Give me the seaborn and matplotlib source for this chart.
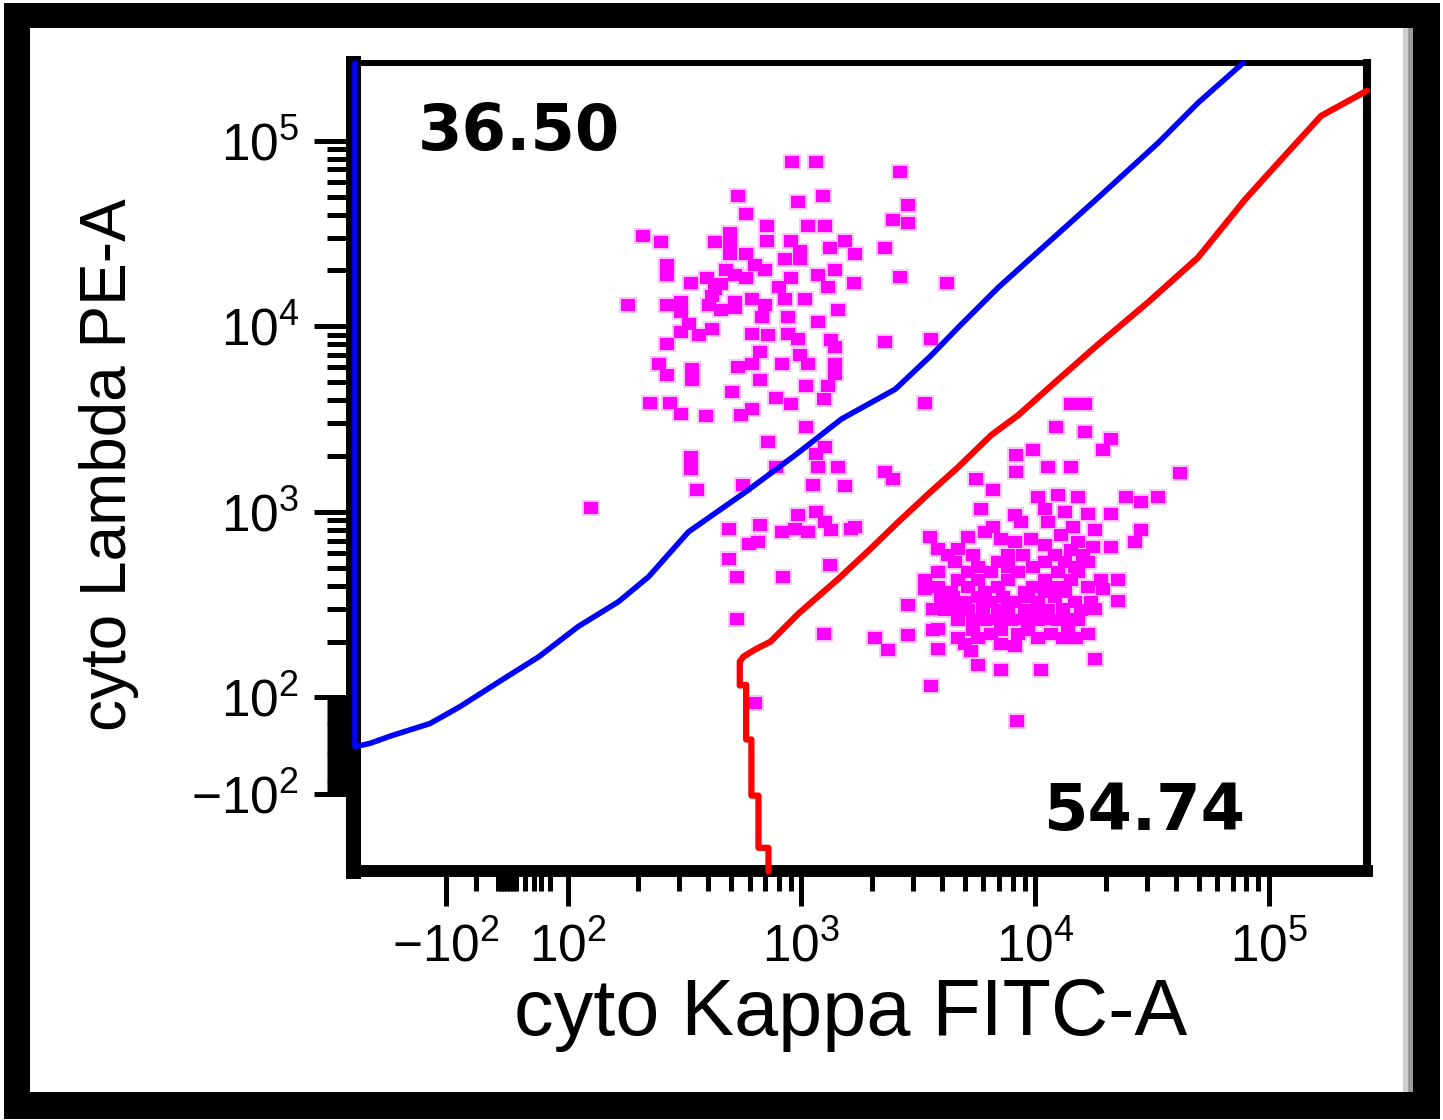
import numpy as np
import pandas as pd
import matplotlib
matplotlib.use("Agg")
import matplotlib.pyplot as plt
import seaborn as sns
from matplotlib.patches import Rectangle
from matplotlib.path import Path
from matplotlib.markers import MarkerStyle
from matplotlib.ticker import FixedLocator, FixedFormatter, NullFormatter

# ---------------- data ----------------
# Lambda+ population (upper-left cluster): x = cyto Kappa FITC-A, y = cyto Lambda PE-A
upper_kappa = [910, 1150, 2650, 533, 970, 1240, 2870, 2870, 2470, 577, 716, 1072, 1265,
               211, 250, 493, 429, 493, 716, 906, 990, 854, 990, 1330, 1541, 1701, 2285,
               265, 265, 493, 577, 474, 522, 636, 702, 336, 393, 429, 906, 798, 1183, 1396,
               1304, 1684, 2650, 4210, 182, 265, 307, 307, 401, 455, 522, 612, 413, 854,
               1040, 1440, 675, 880, 1183, 329, 307, 413, 363, 612, 723, 880, 971, 1343,
               2285, 3596, 265, 1396, 668, 612, 538, 822, 990, 1072, 245, 265, 339, 339,
               1396, 1396, 668, 1051, 1304, 1243, 503, 782, 906, 226, 275, 307, 390, 554,
               612, 3390, 1051, 723, 1265, 1160, 336, 336, 1183, 1440, 775, 2285, 2474,
               356, 565, 1126, 1541, 126, 488, 668, 1701, 3560, 971, 1150, 1265, 942, 1072,
               1343, 822, 655, 594, 1636, 488, 528, 838, 1330, 528, 1243, 636,
               577, 520, 455, 700]
upper_lambda = [77000, 77000, 68000, 50600, 47000, 50600, 45300, 36200, 37600, 40500, 34900,
                34900, 34900, 30500, 28300, 32000, 28300, 28300, 28700, 28700, 25600, 22900,
                22900, 26300, 28700, 24400, 26300, 21300, 18800, 24400, 24400, 20200, 18800,
                21300, 20200, 17200, 18300, 15800, 18300, 16200, 18800, 20000, 16200, 17200,
                18500, 17200, 13000, 13000, 13500, 11900, 13000, 12300, 13500, 14000, 14600,
                14000, 14000, 12300, 11200, 11200, 10500, 10250, 9290, 9640, 8950, 9060, 8950,
                9060, 8500, 8400, 8200, 8500, 8000, 7700, 7250, 6240, 6010, 6240, 7000, 6240,
                6240, 5450, 5880, 5130, 6240, 5520, 5130, 4760, 4760, 4050, 4420, 4100, 3800,
                3850, 3850, 3370, 3290, 3330, 3580, 3850, 2870, 2380, 2240, 2050, 1970, 1700,
                1750, 1750, 1750, 1640, 1500, 1310, 1400, 1400, 1370, 1050, 810, 850, 830,
                735, 960, 1000, 884, 810, 781, 800, 781, 690, 673, 810, 558, 448, 448, 518,
                266, 220, 88,
                18300, 12600, 17000, 13000]

# Kappa+ population (lower-right cluster)
lower_kappa = [2071, 2355, 2867, 3852, 3852, 3390, 3967, 2867, 3852, 3852, 14260, 16360,
               12300, 16360, 21140, 19550, 8300, 9810, 11373, 14260, 8300, 41700, 5600, 6620,
               10300, 12550, 15280, 11040, 13440, 16860, 24500, 28400, 33570, 21140, 5880,
               8220, 8720, 18050, 28400, 26760, 5175, 6115, 7160, 8220, 9620, 11040, 12920,
               15280, 21140, 4690, 14260, 4550, 6953, 11040, 13440, 16860, 5175, 6490, 8465,
               12550, 15280, 3390, 4690, 5711, 7672, 11040, 14260, 19170, 22650, 4380, 6115,
               9060, 11040, 13440, 19550, 5020, 6490, 8220, 10300, 14830, 17370, 22650, 4125,
               5175, 6953, 9060, 11370, 15740, 4690, 6115, 7900, 10300, 12550, 15280, 6490,
               8465, 11720, 16860, 5020, 7160, 8220, 5330, 5711, 7160, 10620, 18050, 3596,
               8380,
               4250, 5440, 7672, 8900, 12180, 16060, 5711, 7672, 9810, 14830,
               3852, 5175, 6953, 9810, 12550, 16860, 4470, 5711, 7310, 9341, 12180,
               3670, 4550, 6000, 7672, 10300, 13190, 18050, 5440, 6953, 9060, 11373, 13847,
               3670, 5440, 7160, 9341, 13847, 4690, 5711, 10300, 13190, 14980,
               6620, 11373, 14550, 17720]
lower_lambda = [208, 181, 218, 633, 476, 385, 341, 316, 234, 183, 3800, 3800, 2870, 2690,
                2470, 2150, 2020, 2150, 1750, 1750, 1640, 1620, 1500, 1310, 1200, 1230, 1200,
                1040, 1000, 970, 1200, 1130, 1200, 970, 1030, 960, 884, 800, 800, 690, 735,
                781, 716, 690, 716, 665, 753, 690, 650, 633, 625, 538, 538, 538, 538, 538, 476,
                476, 476, 476, 476, 431, 431, 431, 431, 431, 431, 431, 431, 371, 371, 371, 371,
                371, 385, 328, 328, 328, 328, 328, 328, 332, 297, 297, 297, 297, 297, 297, 262,
                262, 262, 262, 262, 262, 220, 220, 220, 220, 195, 195, 189, 177, 150, 141, 141,
                162, 115, 51,
                588, 588, 588, 588, 588, 588, 506, 506, 506, 506,
                395, 395, 395, 395, 395, 395, 349, 349, 349, 349, 349,
                301, 301, 301, 301, 301, 301, 301, 266, 266, 266, 266, 266,
                231, 231, 231, 231, 231, 208, 208, 208, 208, 208,
                830, 884, 830, 650]

# gate polygons (drawn as outlines)
blue_gate_kappa = [-245, -245, -211, -173, -117, -77, -12, 53, 111, 165, 222, 329, 577, 942,
                   1482, 2522, 3594, 4690, 6953, 11373, 18600, 33574, 49700, 77400]
blue_gate_lambda = [262144, -2, 5, 20, 46, 81, 122, 166, 241, 328, 447, 781, 1280, 2025,
                    3162, 4585, 6984, 9880, 16200, 28300, 49400, 97500, 160000, 262144]
red_gate_kappa = [723, 723, 655, 655, 611, 611, 580, 580, 545, 545, 565, 642, 738, 813, 971,
                  1439, 1934, 2599, 3491, 4690, 6486, 8465, 12170, 18602, 30428, 49700,
                  78900, 112500, 166700, 262144]
red_gate_lambda = [-262, -195, -195, -102, -102, 13, 13, 117, 116, 156, 166, 183, 200, 226,
                   283, 436, 617, 884, 1250, 1746, 2594, 3324, 5000, 8000, 13500, 23500,
                   48200, 79000, 136000, 186000]

gate_labels = ["36.50", "54.74"]
x_ticks = [-100, 100, 1000, 10000, 100000]
x_ticklabels = [r"$-10^{2}$", r"$10^{2}$", r"$10^{3}$", r"$10^{4}$", r"$10^{5}$"]
y_ticks = [-100, 100, 1000, 10000, 100000]
y_ticklabels = [r"$-10^{2}$", r"$10^{2}$", r"$10^{3}$", r"$10^{4}$", r"$10^{5}$"]
x_title = "cyto Kappa FITC-A"
y_title = "cyto Lambda PE-A"

# ---------------- style ----------------
sns.set_theme(style="ticks")
plt.rcParams["font.family"] = ["Liberation Sans", "DejaVu Sans"]
plt.rcParams["mathtext.fontset"] = "custom"
plt.rcParams["mathtext.rm"] = "Liberation Sans"
plt.rcParams["mathtext.it"] = "Liberation Sans:italic"
plt.rcParams["mathtext.bf"] = "Liberation Sans:bold"

W, H = 1443, 1120
fig = plt.figure(figsize=(W / 100, H / 100), dpi=100)
fig.patch.set_facecolor("white")


def frame_rect(x0, y0, x1, y1, color, z):
    fig.add_artist(Rectangle((x0 / W, 1 - y1 / H), (x1 - x0) / W, (y1 - y0) / H,
                             transform=fig.transFigure, facecolor=color,
                             edgecolor="none", zorder=z))


frame_rect(4, 3, 1440, 1119, "black", -10)
frame_rect(30, 28, 1413, 1092, "white", -9)
frame_rect(1403, 28, 1408, 1092, "#cfcfcf", -8)
frame_rect(1408, 28, 1413, 1092, "#9a9a9a", -8)

ax = fig.add_axes([352.5 / W, 1 - 871 / H, (1367 - 352.5) / W, (871 - 63) / H])
ax.set_facecolor("white")
ax.set_xscale("symlog", linthresh=100, linscale=0.234)
ax.set_yscale("symlog", linthresh=100, linscale=0.234)

# slightly wide square event marker, with a soft pink fringe like the reference
event_marker = MarkerStyle(Path([(-1.15, -1), (1.15, -1), (1.15, 1), (-1.15, 1), (-1.15, -1)],
                                closed=True))
df = pd.DataFrame({"kappa": upper_kappa + lower_kappa,
                   "lambda": upper_lambda + lower_lambda})
sns.scatterplot(data=df, x="kappa", y="lambda", ax=ax, marker=event_marker, s=165,
                color="#ffc4ff", linewidth=0, zorder=1.9, legend=False)
sns.scatterplot(data=df, x="kappa", y="lambda", ax=ax, marker=event_marker, s=105,
                color="#ff00ff", linewidth=0, zorder=2, legend=False)

ax.plot(blue_gate_kappa, blue_gate_lambda, color="#0000ff", lw=4, zorder=4, clip_on=False)
ax.plot(red_gate_kappa, red_gate_lambda, color="#ff0000", lw=4.5, zorder=4, clip_on=False)

ax.set_xlim(-251, 262144)
ax.set_ylim(-260, 262144)

# ticks
x_minor = ([-50, -15, -10, -5, 0, 5, 10, 15, 30, 45, 56, 71] +
           [m * 10 ** e for e in (2, 3, 4) for m in range(2, 10)])
y_minor = ([v for v in range(-90, 100, 10) if v != 0] + [0] +
           [m * 10 ** e for e in (2, 3, 4) for m in range(2, 10)])
ax.xaxis.set_major_locator(FixedLocator(x_ticks))
ax.xaxis.set_major_formatter(FixedFormatter(x_ticklabels))
ax.yaxis.set_major_locator(FixedLocator(y_ticks))
ax.yaxis.set_major_formatter(FixedFormatter(y_ticklabels))
ax.xaxis.set_minor_locator(FixedLocator(x_minor))
ax.yaxis.set_minor_locator(FixedLocator(y_minor))
ax.xaxis.set_minor_formatter(NullFormatter())
ax.yaxis.set_minor_formatter(NullFormatter())

ax.tick_params(which="both", direction="out", color="black", width=3.6,
               bottom=True, left=True, top=False, right=False, labelcolor="black")
ax.tick_params(axis="x", which="major", length=25, pad=12, labelsize=37)
ax.tick_params(axis="x", which="minor", length=14.4)
ax.tick_params(axis="y", which="major", length=28.4, pad=10, labelsize=37)
ax.tick_params(axis="y", which="minor", length=18.4)
ax.set_xlabel("")
ax.set_ylabel("")

for side, lw in (("left", 10.8), ("bottom", 8.6), ("top", 4.3), ("right", 5.8)):
    ax.spines[side].set_visible(True)
    ax.spines[side].set_color("black")
    ax.spines[side].set_linewidth(lw)

# axis titles
fig.text(851 / W, 1 - 1035 / H, x_title, fontsize=57, ha="center", va="baseline",
         color="black")
fig.text(109 / W, 1 - 465 / H, y_title, fontsize=46, rotation=90, ha="center",
         va="center", color="black")

# gate frequencies
fig.text(418 / W, 1 - 150 / H, gate_labels[0], fontsize=46, fontweight="bold",
         family=["DejaVu Sans"], ha="left", va="baseline", color="black")
fig.text(1043 / W, 1 - 830 / H, gate_labels[1], fontsize=46, fontweight="bold",
         family=["DejaVu Sans"], ha="left", va="baseline", color="black")

fig.savefig("out.png", dpi=100)
